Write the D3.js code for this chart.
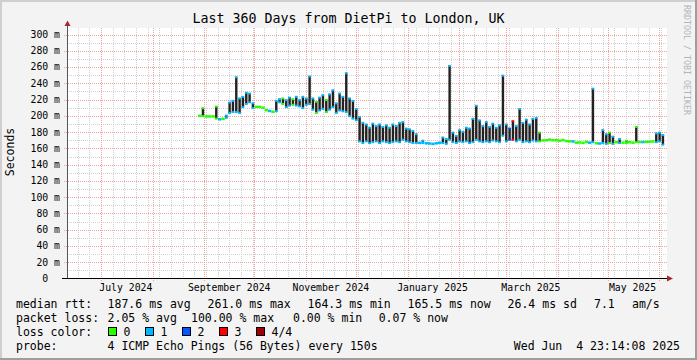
<!DOCTYPE html>
<html>
<head>
<meta charset="utf-8">
<script src="https://d3js.org/d3.v7.min.js"></script>
<style>
  body { margin: 0; background: #f3f3f3; }
  svg text { font-family: "DejaVu Sans Mono", monospace; white-space: pre; }
</style>
</head>
<body>
<div id="chart"></div>
<script>
var svgWidth = 697;
var svgHeight = 360;

// graph covers the last 360 days
var startTime = new Date(2024, 5, 9, 23, 14, 8);
var endTime = new Date(2025, 5, 4, 23, 14, 8);

// rtt samples (ms), one every 2 days starting Aug 28 2024
var sampleStart = new Date(2024, 7, 28, 7, 0);
var sampleStepDays = 2;

var rttHigh = [
  201, 210, 200, 200, 200, 212, 196.5, 197, 201, 217,
  219, 248, 222, 224, 229, 228, 216, 212, 211.5, 211,
  208, 207, 206, 219, 221, 222, 220, 223, 221, 224,
  220, 224, 222, 249, 222, 218, 223, 226, 220, 227,
  232, 216, 228, 224, 253, 222, 219, 209, 199, 192,
  190, 186, 191, 188, 190, 187, 189, 186, 190, 188,
  192, 193, 185, 184, 182, 178, 168, 170, 167, 166.5,
  166, 167, 168, 174, 172, 262, 180, 176, 183, 181,
  186, 185, 197, 213, 195, 188, 193, 187, 191, 186,
  189, 250, 190, 185, 194, 188, 209, 192, 196, 190,
  197, 198, 180, 170.5, 171, 172, 171, 171, 170.5, 171.5,
  170, 169.5, 170, 168, 168, 167.5, 169, 168, 234, 167,
  167, 183, 178, 180, 175, 169, 172, 168, 170, 169,
  168, 187, 169, 168.5, 169, 169, 170, 179, 180, 177
];

var rttLow = [
  199, 199, 198.5, 198.5, 198.5, 196, 195, 195.5, 197, 203,
  204, 204, 203, 210, 214, 216, 209, 210, 210.5, 209,
  206, 205, 204, 205, 216, 214, 210, 212, 213, 212,
  211, 209, 213, 214, 207, 203, 206, 208, 204, 207,
  210, 203, 206, 205, 204, 199, 196, 194, 168, 166,
  168, 166, 167, 168, 166, 168, 167, 166, 167, 168,
  167, 170, 168, 167, 166, 166, 165.5, 166, 165.5, 165.5,
  165, 165.5, 166, 166, 165, 170, 167, 166, 168, 167,
  168, 166, 167, 170, 168, 167, 168, 167, 169, 168,
  167, 175, 168, 170, 170, 168, 170, 167, 168, 167,
  169, 168, 168, 169, 169, 169.5, 169, 169, 168.5, 169,
  168, 168, 167, 166, 166.5, 166, 167, 166, 167, 165.5,
  165, 166, 165, 166, 165, 166, 166, 166, 166, 166,
  166, 167, 166.5, 167, 167, 167.5, 167, 167, 168, 164
];

// lost pings out of 4 for each sample
var lossLevel = [
  0, 0, 0, 0, 0, 0, 1, 0, 1, 1,
  1, 1, 1, 1, 1, 1, 1, 0, 0, 0,
  0, 1, 0, 1, 1, 0, 1, 1, 0, 1,
  1, 1, 1, 1, 1, 0, 1, 1, 0, 1,
  1, 1, 1, 1, 1, 1, 1, 1, 1, 1,
  1, 1, 1, 1, 1, 1, 1, 1, 1, 1,
  1, 1, 1, 1, 1, 1, 1, 1, 1, 1,
  1, 1, 1, 1, 1, 1, 1, 1, 1, 1,
  1, 1, 1, 1, 1, 1, 1, 1, 1, 1,
  1, 1, 1, 2, 3, 1, 1, 1, 1, 1,
  1, 1, 0, 0, 0, 0, 0, 0, 0, 0,
  0, 0, 1, 0, 0, 0, 0, 1, 1, 0,
  1, 1, 1, 0, 1, 0, 1, 0, 0, 0,
  0, 0, 0, 1, 0, 0, 0, 1, 1, 1
];

var lossColors = ["#26ff00", "#00b8ff", "#0059ff", "#ff0000", "#a10000"];
var lossLabels = ["0", "1", "2", "3", "4/4"];

var yTickValues = [0, 20, 40, 60, 80, 100, 120, 140, 160, 180, 200, 220, 240, 260, 280, 300];
var yTickLabels = ["0  ", "20 m", "40 m", "60 m", "80 m", "100 m", "120 m", "140 m", "160 m",
  "180 m", "200 m", "220 m", "240 m", "260 m", "280 m", "300 m"];

var xLabelDates = [new Date(2024, 6, 16), new Date(2024, 8, 16), new Date(2024, 10, 16),
  new Date(2025, 0, 16), new Date(2025, 2, 16), new Date(2025, 4, 16)];
var xLabelTexts = ["July 2024", "September 2024", "November 2024", "January 2025", "March 2025", "May 2025"];

var medianStats = ["187.6 ms avg", "261.0 ms max", "164.3 ms min", "165.5 ms now", "26.4 ms sd", "7.1", "am/s"];
var medianStatX = [107.6, 207.6, 307.6, 407.6, 507.6, 594, 632];
var lossStats = ["2.05 % avg", "100.00 % max", "0.00 % min", "0.07 % now"];
var lossStatX = [107.6, 191, 293, 378.7];

var plot = { left: 67, right: 667, top: 28, bottom: 278.5 };

var svg = d3.select("#chart")
  .append("svg")
  .attr("width", svgWidth)
  .attr("height", svgHeight);

// background and 3d frame
svg.append("rect").attr("width", svgWidth).attr("height", svgHeight).attr("fill", "#f3f3f3");
svg.append("rect").attr("x", 0).attr("y", 0).attr("width", svgWidth).attr("height", 2).attr("fill", "#cfcfcf");
svg.append("rect").attr("x", 0).attr("y", 0).attr("width", 2).attr("height", svgHeight).attr("fill", "#cfcfcf");
svg.append("rect").attr("x", 0).attr("y", svgHeight - 2).attr("width", svgWidth).attr("height", 2).attr("fill", "#9e9e9e");
svg.append("rect").attr("x", svgWidth - 2).attr("y", 0).attr("width", 2).attr("height", svgHeight).attr("fill", "#9e9e9e");

svg.append("rect")
  .attr("x", plot.left)
  .attr("y", plot.top)
  .attr("width", plot.right - plot.left)
  .attr("height", plot.bottom - plot.top)
  .attr("fill", "#ffffff");

var xScale = d3.scaleTime()
  .domain([startTime, endTime])
  .range([65.8, 665.8]);

var yScale = d3.scaleLinear()
  .domain([0, 308])
  .range([plot.bottom, plot.top]);

var grid = svg.append("g");

// minor grid: weeks and every 10 ms
d3.timeMonday.range(startTime, endTime).forEach(function(d) {
  var gx = Math.round(xScale(d)) + 0.5;
  if (gx <= plot.left + 1) return;
  grid.append("line")
    .attr("x1", gx).attr("x2", gx)
    .attr("y1", plot.top).attr("y2", plot.bottom)
    .attr("stroke", "#cfcfcf")
    .attr("stroke-dasharray", "1,1");
});
d3.range(10, 301, 20).forEach(function(v) {
  var gy = Math.round(yScale(v)) + 0.5;
  grid.append("line")
    .attr("x1", plot.left).attr("x2", plot.right)
    .attr("y1", gy).attr("y2", gy)
    .attr("stroke", "#cfcfcf")
    .attr("stroke-dasharray", "1,1");
});

// major grid: months and labelled values
d3.timeMonth.range(startTime, endTime).forEach(function(d) {
  var gx = Math.round(xScale(d)) + 0.5;
  grid.append("line")
    .attr("x1", gx).attr("x2", gx)
    .attr("y1", plot.top).attr("y2", plot.bottom + 3)
    .attr("stroke", "#f2a0a0")
    .attr("stroke-dasharray", "1,1");
});
yTickValues.forEach(function(v) {
  if (v === 0) return;
  var gy = Math.round(yScale(v)) + 0.5;
  grid.append("line")
    .attr("x1", plot.left - 3).attr("x2", plot.right)
    .attr("y1", gy).attr("y2", gy)
    .attr("stroke", "#f2a0a0")
    .attr("stroke-dasharray", "1,1");
});

// y tick labels
svg.append("g")
  .selectAll("text")
  .data(yTickValues)
  .enter()
  .append("text")
  .attr("x", 60)
  .attr("y", d => yScale(d))
  .attr("dy", "0.35em")
  .attr("text-anchor", "end")
  .attr("font-size", "9.8px")
  .attr("fill", "#000")
  .text((d, i) => yTickLabels[i]);

// x labels
svg.append("g")
  .selectAll("text")
  .data(xLabelDates)
  .enter()
  .append("text")
  .attr("x", d => xScale(d))
  .attr("y", 291)
  .attr("text-anchor", "middle")
  .attr("font-size", "9.8px")
  .attr("fill", "#000")
  .text((d, i) => xLabelTexts[i]);

// rtt samples: dark spread with loss-coloured median ends
var marks = svg.append("g");
var stepMs = sampleStepDays * 864e5;
rttHigh.forEach(function(hi, i) {
  var t0 = new Date(sampleStart.getTime() + i * stepMs);
  var t1 = new Date(sampleStart.getTime() + (i + 1) * stepMs);
  var x0 = xScale(t0);
  var w = xScale(t1) - x0;
  var yHi = yScale(hi);
  var yLo = yScale(rttLow[i]);
  var color = lossColors[lossLevel[i]];
  if (yLo - yHi < 2.5) {
    var mid = (yHi + yLo) / 2;
    marks.append("rect")
      .attr("x", x0).attr("width", w)
      .attr("y", Math.min(yHi, mid - 1.25)).attr("height", Math.max(2.5, yLo - yHi))
      .attr("fill", color);
  } else {
    marks.append("rect")
      .attr("x", x0 + 0.4).attr("width", 2.4)
      .attr("y", yHi).attr("height", yLo - yHi)
      .attr("fill", "#222");
    marks.append("rect")
      .attr("x", x0 + 0.2).attr("width", 2.6)
      .attr("y", yHi - 0.5).attr("height", 2)
      .attr("fill", color);
    marks.append("rect")
      .attr("x", x0 + 0.2).attr("width", 2.6)
      .attr("y", yLo - 1.5).attr("height", 2)
      .attr("fill", color);
  }
});

// axes with arrows
svg.append("line")
  .attr("x1", plot.left + 0.5).attr("x2", plot.left + 0.5)
  .attr("y1", plot.bottom).attr("y2", 24)
  .attr("stroke", "#555");
svg.append("line")
  .attr("x1", 62).attr("x2", 668)
  .attr("y1", 278.5).attr("y2", 278.5)
  .attr("stroke", "#000");
svg.append("path")
  .attr("d", "M64.5,26 L67.5,20.5 L70.5,26 Z")
  .attr("fill", "#a52a2a");
svg.append("path")
  .attr("d", "M667,275.5 L673,278.5 L667,281.5 Z")
  .attr("fill", "#a52a2a");

// title, unit label and watermark
svg.append("text")
  .attr("x", 348.5)
  .attr("y", 23)
  .attr("text-anchor", "middle")
  .attr("font-size", "13.3px")
  .attr("fill", "#000")
  .text("Last 360 Days from DietPi to London, UK");

svg.append("text")
  .attr("transform", "translate(14,152) rotate(-90)")
  .attr("text-anchor", "middle")
  .attr("font-size", "11.5px")
  .attr("fill", "#000")
  .text("Seconds");

svg.append("text")
  .attr("transform", "translate(684,5) rotate(90)")
  .attr("text-anchor", "start")
  .attr("font-size", "8.3px")
  .attr("fill", "#b4b4b4")
  .text("RRDTOOL / TOBI OETIKER");

// legend
var legend = svg.append("g")
  .attr("font-size", "11.5px")
  .attr("fill", "#000");

legend.append("text").attr("x", 16).attr("y", 308).text("median rtt:");
legend.selectAll(".med")
  .data(medianStats)
  .enter()
  .append("text")
  .attr("x", (d, i) => medianStatX[i])
  .attr("y", 308)
  .text(d => d);

legend.append("text").attr("x", 16).attr("y", 322).text("packet loss:");
legend.selectAll(".loss")
  .data(lossStats)
  .enter()
  .append("text")
  .attr("x", (d, i) => lossStatX[i])
  .attr("y", 322)
  .text(d => d);

legend.append("text").attr("x", 16).attr("y", 336).text("loss color:");
lossColors.forEach(function(c, i) {
  var bx = 108.5 + i * 37;
  legend.append("rect")
    .attr("x", bx).attr("y", 327.5)
    .attr("width", 8).attr("height", 8)
    .attr("fill", c)
    .attr("stroke", "#000");
  legend.append("text")
    .attr("x", bx + 15)
    .attr("y", 336)
    .text(lossLabels[i]);
});

legend.append("text").attr("x", 16).attr("y", 349.5).text("probe:");
legend.append("text").attr("x", 107.6).attr("y", 349.5).text("4 ICMP Echo Pings (56 Bytes) every 150s");
legend.append("text").attr("x", 680).attr("y", 349.5).attr("text-anchor", "end").text("Wed Jun  4 23:14:08 2025");
</script>
</body>
</html>
